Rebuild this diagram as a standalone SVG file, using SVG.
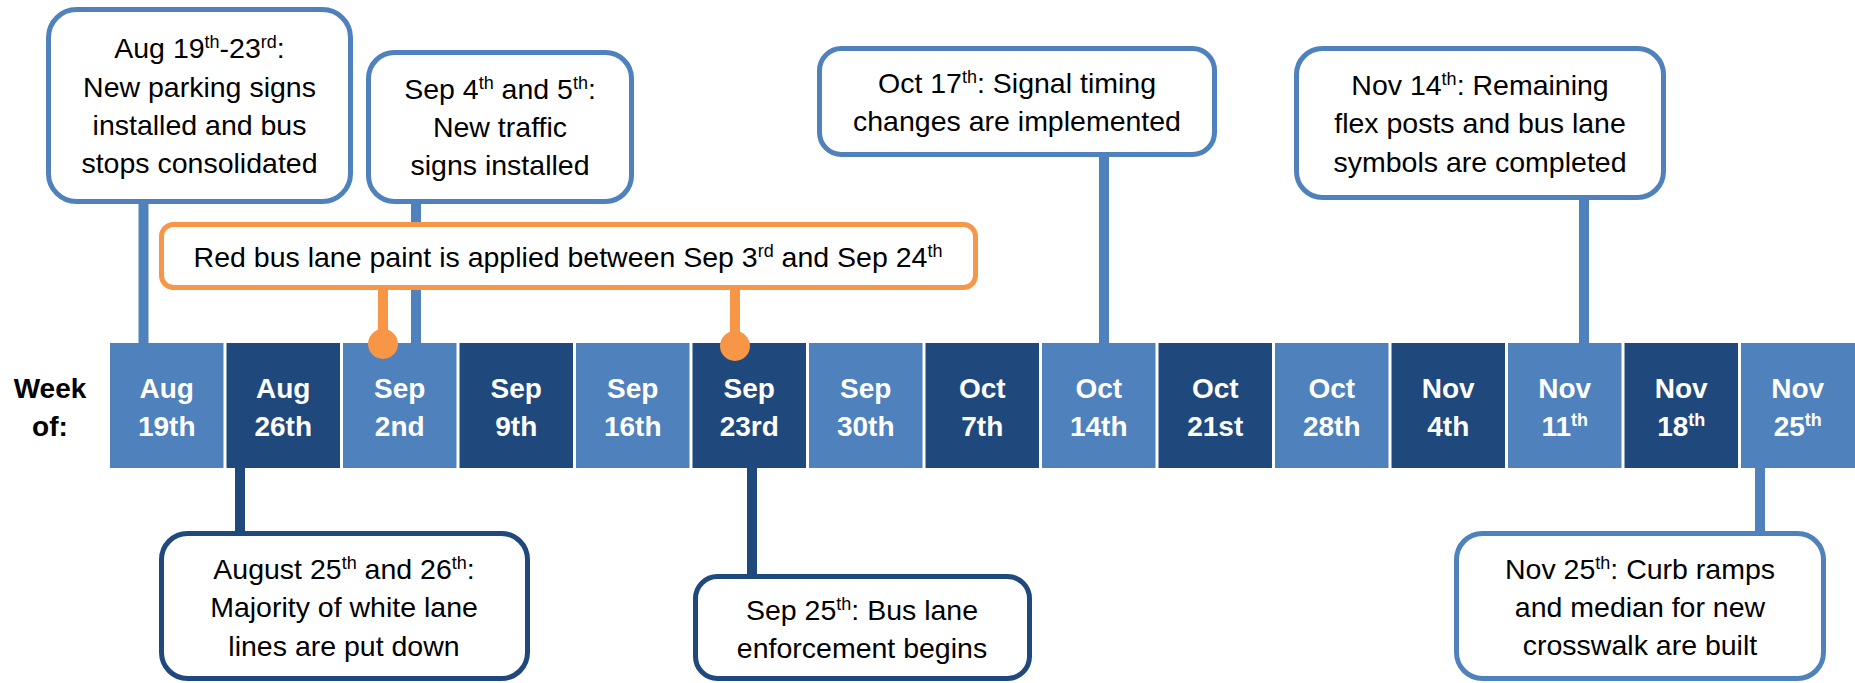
<svg xmlns="http://www.w3.org/2000/svg" width="1855" height="683" viewBox="0 0 1855 683">
<style>
.bg{fill:#ffffff}
.lt{fill:#4F81BD}
.dk{fill:#1F497D}
.ct{font-family:"Liberation Sans",Arial,sans-serif;font-weight:bold;font-size:28px;fill:#ffffff;text-anchor:middle}
.wk{font-family:"Liberation Sans",Arial,sans-serif;font-weight:bold;font-size:28px;fill:#000000;text-anchor:middle}
.box{fill:#ffffff;stroke-width:5}
.bl{stroke:#4F81BD}
.bd{stroke:#1F497D}
.bo{stroke:#F79646}
.tx{font-family:"Liberation Sans",Arial,sans-serif;font-size:28.5px;fill:#000000;text-anchor:middle}
.sup{font-size:18px}
.cl{stroke:#4F81BD;stroke-width:10;fill:none}
.cd{stroke:#1F497D;stroke-width:10;fill:none}
.co{stroke:#F79646;stroke-width:10;fill:none}
</style>
<rect class="bg" x="0" y="0" width="1855" height="683"/>

<g id="week-label">
<text class="wk" x="50" y="398">Week</text>
<text class="wk" x="50" y="436">of:</text>
</g>

<g id="weeks">
<g id="w-aug19"><rect class="lt" x="110" y="343" width="113.5" height="125"/><text class="ct" x="166.75" y="398">Aug</text><text class="ct" x="166.75" y="436">19th</text></g>
<g id="w-aug26"><rect class="dk" x="226.5" y="343" width="113.5" height="125"/><text class="ct" x="283.25" y="398">Aug</text><text class="ct" x="283.25" y="436">26th</text></g>
<g id="w-sep2"><rect class="lt" x="343" y="343" width="113.5" height="125"/><text class="ct" x="399.75" y="398">Sep</text><text class="ct" x="399.75" y="436">2nd</text></g>
<g id="w-sep9"><rect class="dk" x="459.5" y="343" width="113.5" height="125"/><text class="ct" x="516.25" y="398">Sep</text><text class="ct" x="516.25" y="436">9th</text></g>
<g id="w-sep16"><rect class="lt" x="576" y="343" width="113.5" height="125"/><text class="ct" x="632.75" y="398">Sep</text><text class="ct" x="632.75" y="436">16th</text></g>
<g id="w-sep23"><rect class="dk" x="692.5" y="343" width="113.5" height="125"/><text class="ct" x="749.25" y="398">Sep</text><text class="ct" x="749.25" y="436">23rd</text></g>
<g id="w-sep30"><rect class="lt" x="809" y="343" width="113.5" height="125"/><text class="ct" x="865.75" y="398">Sep</text><text class="ct" x="865.75" y="436">30th</text></g>
<g id="w-oct7"><rect class="dk" x="925.5" y="343" width="113.5" height="125"/><text class="ct" x="982.25" y="398">Oct</text><text class="ct" x="982.25" y="436">7th</text></g>
<g id="w-oct14"><rect class="lt" x="1042" y="343" width="113.5" height="125"/><text class="ct" x="1098.75" y="398">Oct</text><text class="ct" x="1098.75" y="436">14th</text></g>
<g id="w-oct21"><rect class="dk" x="1158.5" y="343" width="113.5" height="125"/><text class="ct" x="1215.25" y="398">Oct</text><text class="ct" x="1215.25" y="436">21st</text></g>
<g id="w-oct28"><rect class="lt" x="1275" y="343" width="113.5" height="125"/><text class="ct" x="1331.75" y="398">Oct</text><text class="ct" x="1331.75" y="436">28th</text></g>
<g id="w-nov4"><rect class="dk" x="1391.5" y="343" width="113.5" height="125"/><text class="ct" x="1448.25" y="398">Nov</text><text class="ct" x="1448.25" y="436">4th</text></g>
<g id="w-nov11"><rect class="lt" x="1508" y="343" width="113.5" height="125"/><text class="ct" x="1564.75" y="398">Nov</text><text class="ct" x="1564.75" y="436">11<tspan class="sup" dy="-10">th</tspan></text></g>
<g id="w-nov18"><rect class="dk" x="1624.5" y="343" width="113.5" height="125"/><text class="ct" x="1681.25" y="398">Nov</text><text class="ct" x="1681.25" y="436">18<tspan class="sup" dy="-10">th</tspan></text></g>
<g id="w-nov25"><rect class="lt" x="1741" y="343" width="114" height="125"/><text class="ct" x="1797.75" y="398">Nov</text><text class="ct" x="1797.75" y="436">25<tspan class="sup" dy="-10">th</tspan></text></g>
</g>

<g id="connectors">
<line class="cl" x1="143.5" y1="204" x2="143.5" y2="367"/>
<line class="cl" x1="416" y1="204" x2="416" y2="350"/>
<line class="cl" x1="1104" y1="157" x2="1104" y2="362"/>
<line class="cl" x1="1584" y1="200" x2="1584" y2="367"/>
<line class="cd" x1="240" y1="466" x2="240" y2="532"/>
<line class="cd" x1="752" y1="466" x2="752" y2="575"/>
<line class="cl" x1="1760" y1="458" x2="1760" y2="532"/>
<line class="co" x1="383" y1="288" x2="383" y2="344"/>
<circle cx="383" cy="344" r="15" fill="#F79646"/>
<line class="co" x1="735" y1="288" x2="735" y2="346"/>
<circle cx="735" cy="346" r="15" fill="#F79646"/>
</g>

<g id="n-aug19">
<rect class="box bl" x="48.5" y="9.5" width="302" height="192" rx="28"/>
<text class="tx" x="199.5" y="58">Aug 19<tspan class="sup" dy="-10">th</tspan><tspan dy="10">-23</tspan><tspan class="sup" dy="-10">rd</tspan><tspan dy="10">:</tspan></text>
<text class="tx" x="199.5" y="97">New parking signs</text>
<text class="tx" x="199.5" y="135">installed and bus</text>
<text class="tx" x="199.5" y="173">stops consolidated</text>
</g>

<g id="n-sep4">
<rect class="box bl" x="368.5" y="52.5" width="263" height="149" rx="26"/>
<text class="tx" x="500" y="99">Sep 4<tspan class="sup" dy="-10">th</tspan><tspan dy="10"> and 5</tspan><tspan class="sup" dy="-10">th</tspan><tspan dy="10">:</tspan></text>
<text class="tx" x="500" y="137">New traffic</text>
<text class="tx" x="500" y="175">signs installed</text>
</g>

<g id="n-redpaint">
<rect class="box bo" x="161.5" y="224.5" width="814" height="63" rx="12"/>
<text class="tx" x="568" y="267">Red bus lane paint is applied between Sep 3<tspan class="sup" dy="-10">rd</tspan><tspan dy="10"> and Sep 24</tspan><tspan class="sup" dy="-10">th</tspan></text>
</g>

<g id="n-oct17">
<rect class="box bl" x="819.5" y="48.5" width="395" height="106" rx="22"/>
<text class="tx" x="1017" y="93">Oct 17<tspan class="sup" dy="-10">th</tspan><tspan dy="10">: Signal timing</tspan></text>
<text class="tx" x="1017" y="131">changes are implemented</text>
</g>

<g id="n-nov14">
<rect class="box bl" x="1296.5" y="48.5" width="367" height="149" rx="26"/>
<text class="tx" x="1480" y="95">Nov 14<tspan class="sup" dy="-10">th</tspan><tspan dy="10">: Remaining</tspan></text>
<text class="tx" x="1480" y="133">flex posts and bus lane</text>
<text class="tx" x="1480" y="172">symbols are completed</text>
</g>

<g id="n-aug25">
<rect class="box bd" x="161.5" y="533.5" width="366" height="145" rx="26"/>
<text class="tx" x="344" y="579">August 25<tspan class="sup" dy="-10">th</tspan><tspan dy="10"> and 26</tspan><tspan class="sup" dy="-10">th</tspan><tspan dy="10">:</tspan></text>
<text class="tx" x="344" y="617">Majority of white lane</text>
<text class="tx" x="344" y="656">lines are put down</text>
</g>

<g id="n-sep25">
<rect class="box bd" x="695.5" y="576.5" width="334" height="102" rx="22"/>
<text class="tx" x="862" y="620">Sep 25<tspan class="sup" dy="-10">th</tspan><tspan dy="10">: Bus lane</tspan></text>
<text class="tx" x="862" y="658">enforcement begins</text>
</g>

<g id="n-nov25">
<rect class="box bl" x="1456.5" y="533.5" width="367" height="145" rx="26"/>
<text class="tx" x="1640" y="579">Nov 25<tspan class="sup" dy="-10">th</tspan><tspan dy="10">: Curb ramps</tspan></text>
<text class="tx" x="1640" y="617">and median for new</text>
<text class="tx" x="1640" y="655">crosswalk are built</text>
</g>
</svg>
